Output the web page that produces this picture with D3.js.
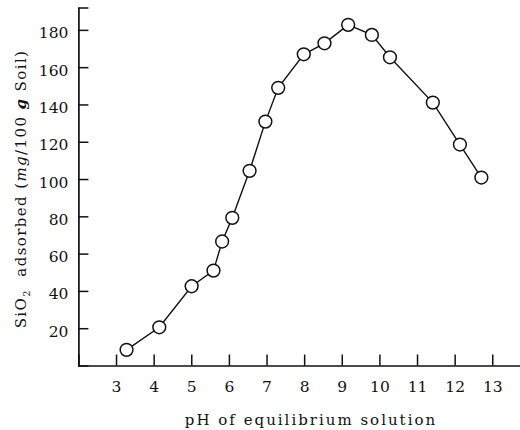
<!DOCTYPE html>
<html>
<head>
<meta charset="utf-8">
<script src="https://cdn.jsdelivr.net/npm/d3@7"></script>
<style>
  html, body { margin: 0; padding: 0; background: #fff; }
  svg { display: block; }
  text { font-family: "DejaVu Serif", "Liberation Serif", serif; fill: #111; }
</style>
</head>
<body>
<svg id="chart" width="520" height="430"></svg>
<script>
// Data
const pH = [3.28, 4.15, 5.01, 5.59, 5.82, 6.09, 6.55, 6.97, 7.31, 7.99, 8.54, 9.17, 9.80, 10.28, 11.42, 12.14, 12.71];
const sio2 = [8.4, 20.5, 42.5, 50.9, 66.5, 79.2, 104.4, 130.8, 148.9, 166.9, 172.8, 182.7, 177.3, 165.3, 141.0, 118.5, 100.8];
const xTicks = [3, 4, 5, 6, 7, 8, 9, 10, 11, 12, 13];
const yTicks = [20, 40, 60, 80, 100, 120, 140, 160, 180];
const xTitle = "pH of equilibrium solution";

const svg = d3.select("#chart");
const ink = "#111";

const x = d3.scaleLinear().domain([2, 13.75]).range([78.4, 520.5]);
const y = d3.scaleLinear().domain([0, 192]).range([365.5, 7.5]);

// Axes
const xAxis = d3.axisBottom(x).tickValues(xTicks).tickSize(-11).tickPadding(15)
  .tickFormat(d3.format("d"));
const gx = svg.append("g").attr("transform", `translate(0,${y(0)})`).call(xAxis);
gx.select(".domain").attr("stroke", ink).attr("stroke-width", 1.7);
gx.selectAll(".tick line").attr("stroke", ink).attr("stroke-width", 1.5);
gx.selectAll(".tick text").attr("font-size", 15.5).attr("fill", ink)
  .attr("font-family", '"DejaVu Serif", serif');

const yAxis = d3.axisLeft(y).tickValues(yTicks).tickSize(-10).tickPadding(10);
const gy = svg.append("g").attr("transform", `translate(${x(2)},0)`).call(yAxis);
gy.select(".domain").attr("stroke", ink).attr("stroke-width", 1.7);
gy.selectAll(".tick line").attr("stroke", ink).attr("stroke-width", 1.5);
gy.selectAll(".tick text").attr("font-size", 15.5).attr("fill", ink)
  .attr("font-family", '"DejaVu Serif", serif').attr("dy", "0.52em");

// Line
const pts = pH.map((v, i) => ({ x: v, y: sio2[i] }));
svg.append("path")
  .datum(pts)
  .attr("fill", "none")
  .attr("stroke", ink)
  .attr("stroke-width", 1.4)
  .attr("d", d3.line().x(d => x(d.x)).y(d => y(d.y)));

// Markers
svg.selectAll("circle.pt").data(pts).enter().append("circle")
  .attr("class", "pt")
  .attr("cx", d => x(d.x)).attr("cy", d => y(d.y)).attr("r", 6.4)
  .attr("fill", "#fff").attr("stroke", ink).attr("stroke-width", 1.5);

// X title
svg.append("text")
  .attr("x", 311).attr("y", 425)
  .attr("text-anchor", "middle")
  .attr("font-size", 15)
  .attr("letter-spacing", 2)
  .text(xTitle);

// Y title
const yt = svg.append("text")
  .attr("transform", "translate(26,189) rotate(-90)")
  .attr("text-anchor", "middle")
  .attr("font-size", 15)
  .attr("letter-spacing", 1.4)
  .attr("xml:space", "preserve")
  .style("white-space", "pre");
yt.append("tspan").text("SiO");
yt.append("tspan").attr("font-size", 10).attr("dy", 4).text("2");
yt.append("tspan").attr("dy", -4).text("  adsorbed (");
yt.append("tspan").attr("font-style", "italic").text("mg");
yt.append("tspan").text("/100 ");
yt.append("tspan").attr("font-style", "italic").attr("font-weight", "bold").text("g");
yt.append("tspan").text(" Soil)");
</script>
</body>
</html>
